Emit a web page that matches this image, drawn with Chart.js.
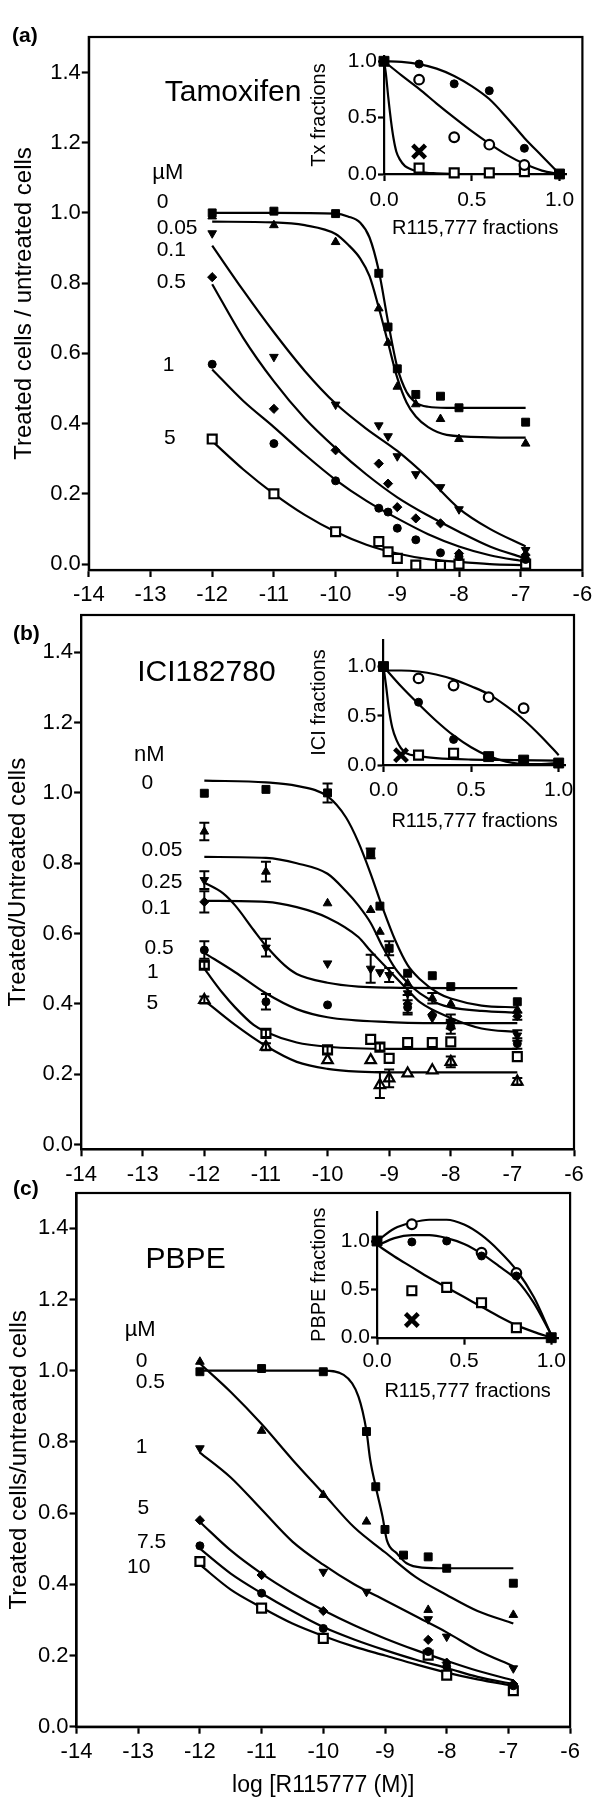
<!DOCTYPE html>
<html>
<head>
<meta charset="utf-8">
<script src="https://cdn.jsdelivr.net/npm/chart.js@4.4.1/dist/chart.umd.min.js"></script>
<style>
  body { margin: 0; background: #fff; }
  #wrap { position: relative; width: 600px; height: 1807px; overflow: hidden; background: #fff; }
  canvas { position: absolute; }
  .tag { position: absolute; font: bold 21px 'Liberation Sans', Arial, sans-serif; line-height: 1; color: #000; }
</style>
</head>
<body>
<div id="wrap">
  <canvas id="mainA" width="600" height="612" style="left:0;top:0"></canvas>
  <canvas id="mainB" width="600" height="590" style="left:0;top:600px"></canvas>
  <canvas id="mainC" width="600" height="631" style="left:0;top:1176px"></canvas>
  <canvas id="insetA" width="310" height="205" style="left:280px;top:40px"></canvas>
  <canvas id="insetB" width="310" height="215" style="left:280px;top:625px"></canvas>
  <canvas id="insetC" width="314" height="215" style="left:276px;top:1195px"></canvas>
  <div class="tag" style="left:12px;top:24px">(a)</div>
  <div class="tag" style="left:13px;top:622px">(b)</div>
  <div class="tag" style="left:13px;top:1177px">(c)</div>
</div>
<script>
const FONT = "'Liberation Sans', Arial, sans-serif";
Chart.defaults.font.family = FONT;
Chart.defaults.color = '#000';

// ---- axes ----
const xTicks = [-14, -13, -12, -11, -10, -9, -8, -7, -6];
const yTicks = [0, 0.2, 0.4, 0.6, 0.8, 1.0, 1.2, 1.4];
const fracTicks = [0, 0.5, 1.0];

// doses (log M) where points were measured
const doseX = [-12, -11, -10, -9.3, -9.15, -9, -8.7, -8.3, -8, -6.92];

// ---- (a) Tamoxifen ----
const aS0 = [1.0, 1.005, 0.998, 0.828, 0.675, 0.556, 0.483, 0.478, 0.445, 0.404];
const aS005 = [0.99, 0.965, 0.917, 0.728, 0.63, 0.505, 0.455, 0.413, 0.356, 0.343];
const aS01 = [0.942, 0.59, 0.454, 0.395, 0.364, 0.307, 0.256, 0.219, 0.156, 0.04];
const aS05 = [0.817, 0.442, 0.324, 0.286, 0.229, 0.162, 0.13, 0.116, 0.03, 0.026];
const aS1 = [0.569, 0.343, 0.237, 0.159, 0.148, 0.102, 0.069, 0.032, 0.021, 0.013];
const aS5 = [0.356, 0.2, 0.092, 0.064, 0.035, 0.016, -0.003, -0.004, 0.0, 0.0];

const aC0x = [-12, -11, -10, -9.8, -9.6, -9.45, -9.3, -9.15, -9, -8.85, -8.7, -8.5, -8.2, -7.5, -6.92];
const aC0y = [1.0, 1.0, 0.998, 0.99, 0.972, 0.93, 0.835, 0.69, 0.56, 0.49, 0.46, 0.448, 0.445, 0.445, 0.445];
const aC005x = [-12, -11, -10.5, -10, -9.8, -9.6, -9.45, -9.3, -9.15, -9, -8.85, -8.7, -8.5, -8.2, -7.5, -6.92];
const aC005y = [0.975, 0.973, 0.965, 0.94, 0.91, 0.87, 0.82, 0.73, 0.63, 0.53, 0.46, 0.42, 0.39, 0.368, 0.361, 0.36];
const aCx = [-12, -11.5, -11, -10.5, -10, -9.5, -9, -8.5, -8, -7.5, -6.92];
const aC01y = [0.907, 0.78, 0.66, 0.55, 0.457, 0.385, 0.322, 0.245, 0.158, 0.1, 0.05];
const aC05y = [0.797, 0.645, 0.52, 0.415, 0.33, 0.255, 0.19, 0.138, 0.092, 0.05, 0.016];
const aC1y = [0.554, 0.465, 0.39, 0.312, 0.24, 0.18, 0.13, 0.085, 0.05, 0.025, 0.007];
const aC5y = [0.35, 0.27, 0.2, 0.14, 0.092, 0.055, 0.03, 0.014, 0.006, 0.0, -0.003];

// ---- (b) ICI182780 ----
const bS0 = [0.999, 1.01, 1.0, 0.828, 0.678, 0.558, 0.487, 0.48, 0.449, 0.406];
const bE0 = [0, 0, 0.027, 0.014, 0, 0.02, 0, 0, 0, 0];
const bS005 = [0.89, 0.776, 0.686, 0.667, 0.605, null, 0.458, 0.416, 0.4, 0.383];
const bE005 = [0.025, 0.028, 0, 0, 0, 0, 0, 0.015, 0, 0];
const bS025 = [0.752, 0.56, 0.515, 0.5, 0.49, 0.482, 0.43, 0.36, 0.345, 0.31];
const bE025 = [0.025, 0.025, 0, 0.04, 0, 0.02, 0, 0, 0, 0.015];
const bS01 = [0.69, null, null, null, null, null, 0.4, 0.37, 0.35, 0.365];
const bE01 = [0.03, 0, 0, 0, 0, 0, 0.025, 0, 0.02, 0.01];
const bS05 = [0.553, 0.406, 0.397, null, null, null, 0.39, null, 0.335, 0.287];
const bE05 = [0.025, 0.022, 0, 0, 0, 0, 0.02, 0, 0.02, 0.015];
const bS1 = [0.51, 0.316, 0.269, 0.299, 0.277, 0.245, 0.29, 0.29, 0.292, 0.25];
const bE1 = [0.01, 0.01, 0.01, 0, 0.01, 0, 0, 0, 0, 0];
const bS5 = [0.411, 0.278, 0.24, 0.24, 0.169, 0.188, 0.202, 0.211, 0.235, 0.179];
const bE5 = [0.01, 0.01, 0, 0, 0.037, 0.025, 0, 0, 0.015, 0.01];

const bC0x = [-12, -11, -10.5, -10, -9.7, -9.5, -9.3, -9.1, -8.9, -8.7, -8.5, -8.2, -8, -7.5, -6.92];
const bC0y = [1.035, 1.03, 1.02, 0.99, 0.93, 0.86, 0.77, 0.67, 0.58, 0.51, 0.47, 0.43, 0.415, 0.395, 0.39];
const bC005y = [0.818, 0.815, 0.8, 0.77, 0.72, 0.68, 0.63, 0.56, 0.5, 0.46, 0.43, 0.4, 0.39, 0.38, 0.375];
const bC025x = [-12, -11.7, -11.5, -11.2, -11, -10.7, -10.5, -10, -9.5, -9, -8, -6.92];
const bC025y = [0.745, 0.715, 0.68, 0.61, 0.565, 0.51, 0.485, 0.46, 0.449, 0.446, 0.445, 0.445];
const bC01x = [-12, -11, -10.5, -10, -9.5, -9.3, -9, -8.7, -8.5, -8, -7.5, -6.92];
const bC01y = [0.693, 0.69, 0.675, 0.645, 0.59, 0.55, 0.495, 0.44, 0.405, 0.36, 0.33, 0.32];
const bC05x = [-12, -11.5, -11, -10.5, -10, -9, -8, -6.92];
const bC05y = [0.545, 0.49, 0.43, 0.385, 0.362, 0.348, 0.345, 0.345];
const bC1x = [-12, -11.7, -11.5, -11.2, -11, -10.5, -10, -9, -6.92];
const bC1y = [0.5, 0.43, 0.39, 0.34, 0.32, 0.29, 0.278, 0.272, 0.272];
const bC5x = [-12, -11.5, -11, -10.5, -10, -9.5, -9, -6.92];
const bC5y = [0.41, 0.34, 0.28, 0.235, 0.215, 0.207, 0.205, 0.205];

// ---- (c) PBPE ----
const cS0 = [0.997, 1.006, 0.997, 0.829, 0.674, 0.554, 0.482, 0.477, 0.445, 0.403];
const cS05 = [1.025, 0.831, 0.651, 0.576, null, null, null, 0.328, null, 0.314];
const cS1 = [0.782, null, 0.435, 0.379, null, null, null, 0.302, 0.253, 0.164];
const cS5 = [0.58, 0.426, 0.325, null, null, null, null, 0.244, 0.18, 0.12];
const cS75 = [0.508, 0.375, 0.276, null, null, null, null, 0.211, 0.169, 0.115];
const cS10 = [0.464, 0.333, 0.248, null, null, null, null, 0.201, 0.145, 0.101];

const cC0x = [-12, -11, -10, -9.67, -9.43, -9.3, -9.24, -9.15, -9.04, -8.97, -8.81, -8.65, -8.4, -8, -6.92];
const cC0y = [1.0, 1.0, 1.0, 0.988, 0.927, 0.83, 0.75, 0.674, 0.59, 0.524, 0.487, 0.459, 0.447, 0.445, 0.445];
const cCx = [-12, -11.5, -11, -10.5, -10, -9.5, -9, -8.5, -8, -7.5, -6.92];
const cC05y = [1.02, 0.94, 0.85, 0.75, 0.655, 0.56, 0.49, 0.42, 0.37, 0.325, 0.29];
const cC1y = [0.77, 0.7, 0.61, 0.52, 0.455, 0.4, 0.355, 0.31, 0.265, 0.215, 0.17];
const cC5y = [0.575, 0.495, 0.43, 0.375, 0.327, 0.285, 0.248, 0.215, 0.185, 0.157, 0.13];
const cC75y = [0.5, 0.43, 0.375, 0.325, 0.28, 0.245, 0.215, 0.188, 0.165, 0.14, 0.12];
const cC10y = [0.455, 0.385, 0.335, 0.29, 0.255, 0.225, 0.2, 0.175, 0.152, 0.133, 0.115];

// ---- insets (R115,777 fraction vs drug fraction) ----
const fracX = [0.2, 0.4, 0.6, 0.8];
const curveX = [0, 0.1, 0.2, 0.3, 0.4, 0.5, 0.6, 0.7, 0.8, 0.9, 1.0];

const iaEndX = [0, 1], iaEndY = [1, 0];
const iaDot = [0.976, 0.8, 0.739, 0.228];
const iaRing = [0.837, 0.326, 0.26, 0.08];
const iaBox = [0.053, 0.01, 0.01, 0.02];
const iaCrossX = [0.2], iaCrossY = [0.2];
const iaUpY = [1.0, 0.995, 0.975, 0.935, 0.87, 0.78, 0.665, 0.5, 0.32, 0.16, 0.0];
const iaMidY = [1.0, 0.875, 0.755, 0.625, 0.5, 0.38, 0.27, 0.17, 0.09, 0.03, 0.0];
const iaLowX = [0, 0.01, 0.025, 0.04, 0.055, 0.07, 0.09, 0.12, 0.15, 0.2, 0.3, 0.5, 1.0];
const iaLowY = [1.0, 0.9, 0.67, 0.47, 0.31, 0.2, 0.13, 0.07, 0.045, 0.02, 0.006, 0, 0];

const ibEndX = [0, 0.6, 0.8, 1.0], ibEndY = [1, 0.085, 0.05, 0.02];
const ibDotX = [0.2, 0.4], ibDotY = [0.638, 0.26];
const ibRing = [0.88, 0.807, 0.689, 0.577];
const ibBoxX = [0.2, 0.4], ibBoxY = [0.1, 0.12];
const ibCrossX = [0.1], ibCrossY = [0.1];
const ibUpY = [0.96, 0.96, 0.95, 0.92, 0.87, 0.8, 0.72, 0.6, 0.46, 0.29, 0.1];
const ibMidY = [1.0, 0.8, 0.62, 0.45, 0.3, 0.18, 0.09, 0.035, 0.01, 0.01, 0.02];
const ibLowX = [0, 0.015, 0.03, 0.05, 0.075, 0.1, 0.13, 0.2, 0.3, 0.5, 0.75, 1.0];
const ibLowY = [1.0, 0.8, 0.58, 0.38, 0.25, 0.17, 0.12, 0.09, 0.07, 0.055, 0.05, 0.045];

const icEndX = [0, 1], icEndY = [1, 0];
const icDot = [0.99, 1.0, 0.845, 0.638];
const icRingX = [0.2, 0.6, 0.8], icRingY = [1.173, 0.879, 0.67];
const icBox = [0.486, 0.52, 0.362, 0.103];
const icCrossX = [0.2], icCrossY = [0.183];
const icUpY = [1.0, 1.13, 1.19, 1.22, 1.22, 1.17, 1.06, 0.9, 0.7, 0.42, 0.03];
const icMidY = [0.95, 1.03, 1.06, 1.06, 1.03, 0.97, 0.87, 0.74, 0.6, 0.36, 0.03];
const icLowY = [0.96, 0.84, 0.73, 0.62, 0.52, 0.42, 0.32, 0.22, 0.13, 0.06, 0.0];

// ---- helpers ----
const xy = (xs, ys, es) => xs.map((x, i) => ({ x, y: ys[i], e: es ? es[i] : 0 })).filter(p => p.y !== null);

const SHAPES = {
  sq:    { pointStyle: 'rect', pointRadius: 5.6, pointBackgroundColor: '#000', pointBorderWidth: 1 },
  tri:   { pointStyle: 'triangle', pointRadius: 5, pointBackgroundColor: '#000', pointBorderWidth: 1 },
  inv:   { pointStyle: 'triangle', pointRotation: 180, pointRadius: 5, pointBackgroundColor: '#000', pointBorderWidth: 1 },
  dia:   { pointStyle: 'rectRot', pointRadius: 4.6, pointBackgroundColor: '#000', pointBorderWidth: 1 },
  dot:   { pointStyle: 'circle', pointRadius: 4, pointBackgroundColor: '#000', pointBorderWidth: 1 },
  osq:   { pointStyle: 'rect', pointRadius: 6.3, pointBackgroundColor: '#fff', pointBorderWidth: 2.2 },
  otri:  { pointStyle: 'triangle', pointRadius: 6, pointBackgroundColor: '#fff', pointBorderWidth: 2.2 },
  ring:  { pointStyle: 'circle', pointRadius: 4.8, pointBackgroundColor: '#fff', pointBorderWidth: 2.2 },
  bigsq: { pointStyle: 'rect', pointRadius: 7, pointBackgroundColor: '#000', pointBorderWidth: 1 },
  cross: { pointStyle: 'crossRot', pointRadius: 9, pointBackgroundColor: '#000', pointBorderWidth: 4.5 }
};

function marks(data, shape) {
  return Object.assign({ data, showLine: false, pointBorderColor: '#000', clip: false }, SHAPES[shape]);
}
function curve(xs, ys) {
  return { data: xy(xs, ys), showLine: true, pointRadius: 0, borderColor: '#000', borderWidth: 2.2,
           cubicInterpolationMode: 'monotone', fill: false, clip: false };
}

// ---- plugins ----
const framePlugin = {
  id: 'frame',
  afterDraw(chart, args, opts) {
    if (!opts.on) return;
    const { left, top, right, bottom } = chart.chartArea;
    const ctx = chart.ctx;
    ctx.save();
    ctx.lineWidth = 2.2;
    ctx.strokeStyle = '#000';
    ctx.strokeRect(left, top, right - left, bottom - top);
    ctx.restore();
  }
};

const errorPlugin = {
  id: 'errbars',
  afterDatasetsDraw(chart) {
    const ctx = chart.ctx, ys = chart.scales.y;
    ctx.save();
    ctx.strokeStyle = '#000';
    ctx.lineWidth = 2;
    chart.data.datasets.forEach((ds, i) => {
      const meta = chart.getDatasetMeta(i);
      ds.data.forEach((p, j) => {
        if (!p.e) return;
        const px = meta.data[j].x;
        const y1 = ys.getPixelForValue(p.y + p.e), y2 = ys.getPixelForValue(p.y - p.e);
        ctx.beginPath();
        ctx.moveTo(px, y1); ctx.lineTo(px, y2);
        ctx.moveTo(px - 5, y1); ctx.lineTo(px + 5, y1);
        ctx.moveTo(px - 5, y2); ctx.lineTo(px + 5, y2);
        ctx.stroke();
      });
    });
    ctx.restore();
  }
};

const notesPlugin = {
  id: 'notes',
  afterDraw(chart, args, opts) {
    const ctx = chart.ctx;
    ctx.save();
    ctx.fillStyle = '#000';
    ctx.textBaseline = 'middle';
    ctx.textAlign = 'left';
    (opts.items || []).forEach(n => {
      ctx.font = n.size + 'px ' + FONT;
      ctx.fillText(n.text, chart.scales.x.getPixelForValue(n.x), chart.scales.y.getPixelForValue(n.y));
    });
    ctx.restore();
  }
};

Chart.register(framePlugin, errorPlugin, notesPlugin);

const tickGrid = { drawOnChartArea: false, tickLength: 7, tickWidth: 2.2, tickColor: '#000' };
const axisLine = { color: '#000', width: 2.2 };

function mainChart(id, cfg) {
  return new Chart(document.getElementById(id), {
    type: 'line',
    data: { datasets: cfg.datasets },
    options: {
      responsive: false, animation: false, events: [],
      layout: { padding: { left: 0, top: cfg.padTop, right: cfg.padRight, bottom: 0 } },
      plugins: { legend: { display: false }, tooltip: { enabled: false }, frame: { on: true }, notes: { items: cfg.notes } },
      scales: {
        x: {
          type: 'linear', min: -14, max: -6,
          afterBuildTicks: s => { s.ticks = xTicks.map(v => ({ value: v })); },
          afterFit: s => { s.height = cfg.xH; },
          ticks: { font: { size: 22 }, color: '#000', padding: 5, maxRotation: 0, autoSkip: false, callback: v => String(v) },
          grid: tickGrid, border: axisLine,
          title: cfg.xTitle ? { display: true, text: cfg.xTitle, font: { size: 23 }, color: '#000', padding: { top: 0, bottom: 8 } } : { display: false }
        },
        y: {
          min: cfg.yMin, max: cfg.yMax,
          afterBuildTicks: s => { s.ticks = yTicks.map(v => ({ value: v })); },
          afterFit: s => { s.width = cfg.yW; },
          ticks: { font: { size: 22 }, color: '#000', padding: 1, callback: v => v.toFixed(1) },
          grid: tickGrid, border: axisLine,
          title: { display: true, text: cfg.yTitle, font: { size: 24 }, color: '#000', padding: { top: cfg.yTitlePad, bottom: 0 } }
        }
      }
    }
  });
}

function insetChart(id, cfg) {
  return new Chart(document.getElementById(id), {
    type: 'line',
    data: { datasets: cfg.datasets },
    options: {
      responsive: false, animation: false, events: [],
      layout: { padding: { left: 0, top: cfg.padTop, right: cfg.padRight, bottom: 0 } },
      plugins: { legend: { display: false }, tooltip: { enabled: false } },
      scales: {
        x: {
          type: 'linear', min: 0, max: 1.04,
          afterBuildTicks: s => { s.ticks = fracTicks.map(v => ({ value: v })); },
          afterFit: s => { s.height = cfg.xH; },
          ticks: { font: { size: 21 }, color: '#000', padding: cfg.xTickPad, maxRotation: 0, autoSkip: false, callback: v => v.toFixed(1) },
          grid: tickGrid, border: axisLine,
          title: { display: true, text: 'R115,777 fractions', font: { size: 20 }, color: '#000', padding: { top: 0, bottom: cfg.xTitlePad } }
        },
        y: {
          min: 0, max: cfg.yMax,
          afterBuildTicks: s => { s.ticks = fracTicks.map(v => ({ value: v })); },
          afterFit: s => { s.width = cfg.yW; },
          ticks: { font: { size: 21 }, color: '#000', padding: 1, callback: v => v.toFixed(1) },
          grid: { drawOnChartArea: false, tickLength: 6, tickWidth: 2.2, tickColor: '#000' }, border: axisLine,
          title: { display: true, text: cfg.yTitle, font: { size: 20 }, color: '#000', padding: { top: cfg.yTitlePad, bottom: 0 } }
        }
      }
    }
  });
}

// ---- (a) ----
mainChart('mainA', {
  padTop: 37, padRight: 17.6, yW: 88.8, xH: 42, yMin: -0.017, yMax: 1.501, yTitlePad: 9.6,
  yTitle: 'Treated cells / untreated cells',
  notes: [
    { text: 'Tamoxifen', x: -12.77, y: 1.342, size: 30 },
    { text: 'µM', x: -12.97, y: 1.114, size: 22 },
    { text: '0', x: -12.9, y: 1.031, size: 21 },
    { text: '0.05', x: -12.9, y: 0.957, size: 21 },
    { text: '0.1', x: -12.9, y: 0.895, size: 21 },
    { text: '0.5', x: -12.9, y: 0.803, size: 21 },
    { text: '1', x: -12.8, y: 0.567, size: 21 },
    { text: '5', x: -12.78, y: 0.359, size: 21 }
  ],
  datasets: [
    marks(xy(doseX, aS0), 'sq'), marks(xy(doseX, aS005), 'tri'), marks(xy(doseX, aS01), 'inv'),
    marks(xy(doseX, aS05), 'dia'), marks(xy(doseX, aS1), 'dot'), marks(xy(doseX, aS5), 'osq'),
    curve(aC0x, aC0y), curve(aC005x, aC005y), curve(aCx, aC01y), curve(aCx, aC05y), curve(aCx, aC1y), curve(aCx, aC5y)
  ]
});

// ---- (b) ----
mainChart('mainB', {
  padTop: 15, padRight: 26, yW: 81.1, xH: 40.7, yMin: -0.0137, yMax: 1.506, yTitlePad: 3.9,
  yTitle: 'Treated/Untreated cells',
  notes: [
    { text: 'ICI182780', x: -13.09, y: 1.341, size: 30 },
    { text: 'nM', x: -13.14, y: 1.108, size: 22 },
    { text: '0', x: -13.02, y: 1.029, size: 21 },
    { text: '0.05', x: -13.02, y: 0.838, size: 21 },
    { text: '0.25', x: -13.02, y: 0.747, size: 21 },
    { text: '0.1', x: -13.02, y: 0.673, size: 21 },
    { text: '0.5', x: -12.97, y: 0.559, size: 21 },
    { text: '1', x: -12.93, y: 0.49, size: 21 },
    { text: '5', x: -12.94, y: 0.402, size: 21 }
  ],
  datasets: [
    marks(xy(doseX, bS0, bE0), 'sq'), marks(xy(doseX, bS005, bE005), 'tri'), marks(xy(doseX, bS025, bE025), 'inv'),
    marks(xy(doseX, bS01, bE01), 'dia'), marks(xy(doseX, bS05, bE05), 'dot'), marks(xy(doseX, bS1, bE1), 'osq'),
    marks(xy(doseX, bS5, bE5), 'otri'),
    curve(bC0x, bC0y), curve(bC0x, bC005y), curve(bC025x, bC025y), curve(bC01x, bC01y),
    curve(bC05x, bC05y), curve(bC1x, bC1y), curve(bC5x, bC5y)
  ]
});

// ---- (c) ----
mainChart('mainC', {
  padTop: 17, padRight: 29.9, yW: 76.5, xH: 80.3, yMin: 0, yMax: 1.499, yTitlePad: 5.1,
  yTitle: 'Treated cells/untreated cells', xTitle: 'log [R115777 (M)]',
  notes: [
    { text: 'PBPE', x: -12.88, y: 1.311, size: 30 },
    { text: 'µM', x: -13.22, y: 1.114, size: 22 },
    { text: '0', x: -13.04, y: 1.027, size: 21 },
    { text: '0.5', x: -13.04, y: 0.968, size: 21 },
    { text: '1', x: -13.04, y: 0.786, size: 21 },
    { text: '5', x: -13.01, y: 0.614, size: 21 },
    { text: '7.5', x: -13.02, y: 0.519, size: 21 },
    { text: '10', x: -13.18, y: 0.449, size: 21 }
  ],
  datasets: [
    marks(xy(doseX, cS0), 'sq'), marks(xy(doseX, cS05), 'tri'), marks(xy(doseX, cS1), 'inv'),
    marks(xy(doseX, cS5), 'dia'), marks(xy(doseX, cS75), 'dot'), marks(xy(doseX, cS10), 'osq'),
    curve(cC0x, cC0y), curve(cCx, cC05y), curve(cCx, cC1y), curve(cCx, cC5y), curve(cCx, cC75y), curve(cCx, cC10y)
  ]
});

// ---- insets ----
insetChart('insetA', {
  padTop: 16, padRight: 23.5, yW: 104, xH: 71, yMax: 1.047, xTickPad: 6.4, xTitlePad: 5, yTitlePad: 27.5,
  yTitle: 'Tx fractions',
  datasets: [
    marks(xy(iaEndX, iaEndY), 'bigsq'), marks(xy(fracX, iaDot), 'dot'), marks(xy(fracX, iaRing), 'ring'),
    marks(xy(fracX, iaBox), 'osq'), marks(xy(iaCrossX, iaCrossY), 'cross'),
    curve(curveX, iaUpY), curve(curveX, iaMidY), curve(iaLowX, iaLowY)
  ]
});

insetChart('insetB', {
  padTop: 15, padRight: 24.3, yW: 103.5, xH: 75, yMax: 1.27, xTickPad: 5.4, xTitlePad: 6.3, yTitlePad: 27.5,
  yTitle: 'ICI fractions',
  datasets: [
    marks(xy(ibEndX, ibEndY), 'bigsq'), marks(xy(ibDotX, ibDotY), 'dot'), marks(xy(fracX, ibRing), 'ring'),
    marks(xy(ibBoxX, ibBoxY), 'osq'), marks(xy(ibCrossX, ibCrossY), 'cross'),
    curve(curveX, ibUpY), curve(curveX, ibMidY), curve(ibLowX, ibLowY)
  ]
});

insetChart('insetC', {
  padTop: 16.7, padRight: 31.8, yW: 101, xH: 72.3, yMax: 1.303, xTickPad: 4.4, xTitlePad: 6.3, yTitlePad: 31.5,
  yTitle: 'PBPE fractions',
  datasets: [
    marks(xy(icEndX, icEndY), 'bigsq'), marks(xy(fracX, icDot), 'dot'), marks(xy(icRingX, icRingY), 'ring'),
    marks(xy(fracX, icBox), 'osq'), marks(xy(icCrossX, icCrossY), 'cross'),
    curve(curveX, icUpY), curve(curveX, icMidY), curve(curveX, icLowY)
  ]
});
</script>
</body>
</html>
